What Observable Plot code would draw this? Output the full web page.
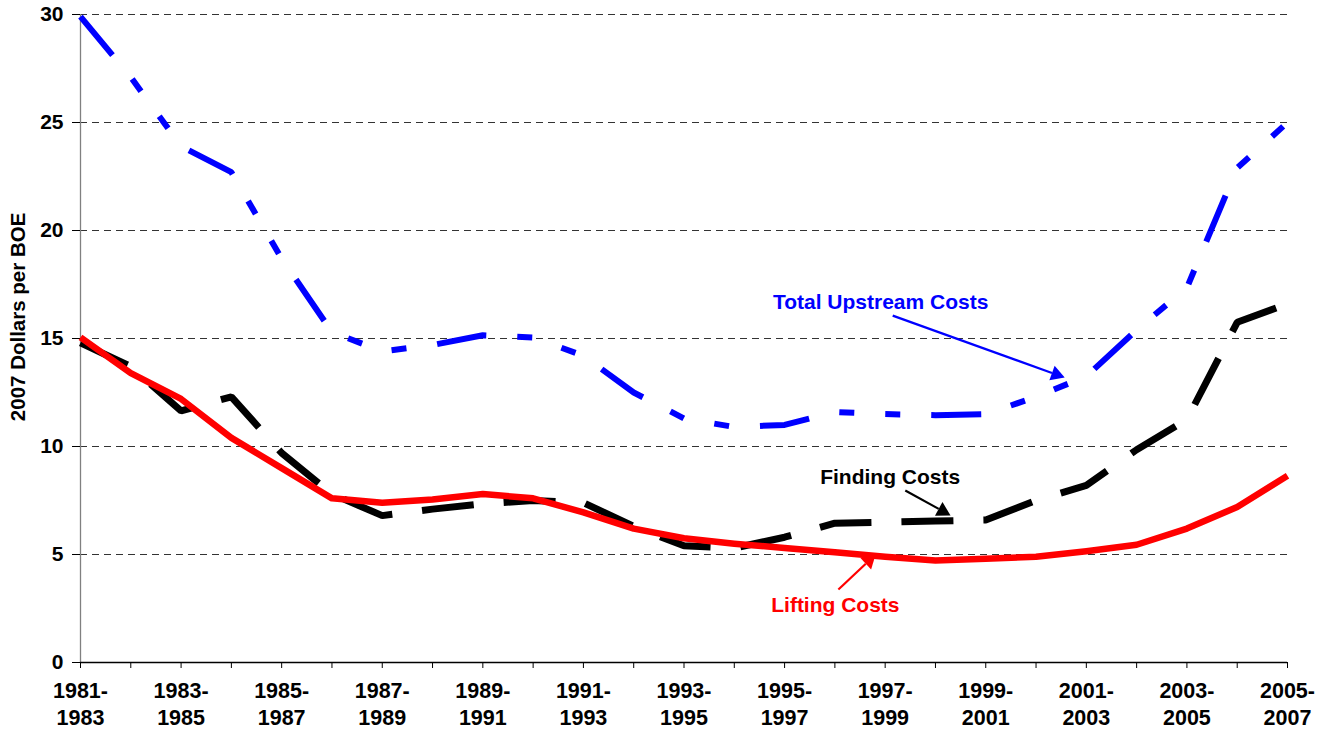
<!DOCTYPE html>
<html>
<head>
<meta charset="utf-8">
<script src="https://cdn.jsdelivr.net/npm/d3@7"></script>
<script src="https://cdn.jsdelivr.net/npm/@observablehq/plot@0.6"></script>
<style>
  html, body { margin: 0; padding: 0; background: #ffffff; }
</style>
</head>
<body>
<div id="chart"></div>
<script>
// ---- data ----
const categories = [
  "1981-1983","1982-1984","1983-1985","1984-1986","1985-1987","1986-1988","1987-1989",
  "1988-1990","1989-1991","1990-1992","1991-1993","1992-1994","1993-1995","1994-1996",
  "1995-1997","1996-1998","1997-1999","1998-2000","1999-2001","2000-2002","2001-2003",
  "2002-2004","2003-2005","2004-2006","2005-2007"
];
const totalUpstream = [29.9, 27.1, 23.9, 22.7, 18.7, 15.3, 14.4, 14.7, 15.15, 15.05, 14.2, 12.5, 11.3,
  10.9, 11.0, 11.6, 11.5, 11.45, 11.5, 12.3, 13.25, 15.4, 17.35, 22.9, 25.0];
const findingCosts = [14.8, 13.7, 11.65, 12.3, 9.7, 7.8, 6.8, 7.1, 7.35, 7.5, 7.4, 6.3, 5.4,
  5.3, 5.8, 6.45, 6.5, 6.55, 6.6, 7.5, 8.2, 9.85, 11.25, 15.75, 16.6];
const liftingCosts = [15.05, 13.4, 12.2, 10.4, 9.0, 7.6, 7.4, 7.55, 7.8, 7.6, 6.95, 6.2, 5.75,
  5.5, 5.3, 5.1, 4.9, 4.72, 4.8, 4.9, 5.15, 5.45, 6.2, 7.2, 8.65];
const yTicks = [0, 5, 10, 15, 20, 25, 30];
const yTitle = "2007 Dollars per BOE";

// annotations (data coordinates: x = start year, y = dollars)
const annoText = ["Total Upstream Costs", "Finding Costs", "Lifting Costs"];
const annoColor = ["#0000FF", "#000000", "#FF0000"];
const annoX = [1996.91, 1997.10, 1996.01];
const annoY = [16.7, 8.56, 2.64];
const arrowFromX = [1997.15, 1997.40, 1996.07];
const arrowFromY = [16.06, 7.96, 3.38];
const arrowToX = [2000.57, 1998.30, 1996.81];
const arrowToY = [13.19, 6.81, 5.0];

// ---- layout ----
const W = 1334, H = 729;
const mL = 80, mR = 47, mT = 14, mB = 67;
const FONT = "'Liberation Sans', Arial, Helvetica, sans-serif";

const startYear = categories.map(c => +c.slice(0, 4));
const rows = categories.map((c, i) => ({
  year: startYear[i], total: totalUpstream[i], finding: findingCosts[i], lifting: liftingCosts[i]
}));
const xDomain = [startYear[0], startYear[startYear.length - 1]];
const yDomain = [yTicks[0], yTicks[yTicks.length - 1]];

// replicas of the plot scales, only to orient the arrowheads
const sx = d3.scaleLinear(xDomain, [mL, W - mR]);
const sy = d3.scaleLinear(yDomain, [H - mB, mT]);
const HALF = 4.5;               // triangle half-unit (apex at 2*HALF, base at HALF from center)
const headR = Math.sqrt(HALF * HALF * 3 * Math.sqrt(3) / Math.PI);
const arrows = annoText.map((t, i) => {
  const px1 = sx(arrowFromX[i]), py1 = sy(arrowFromY[i]);
  const px2 = sx(arrowToX[i]), py2 = sy(arrowToY[i]);
  const len = Math.hypot(px2 - px1, py2 - py1);
  const ux = (px2 - px1) / len, uy = (py2 - py1) / len;
  return {
    x1: arrowFromX[i], y1: arrowFromY[i],
    bx: sx.invert(px2 - ux * 3 * HALF), by: sy.invert(py2 - uy * 3 * HALF),
    cx: sx.invert(px2 - ux * 2 * HALF), cy: sy.invert(py2 - uy * 2 * HALF),
    angle: Math.atan2(ux, -uy) * 180 / Math.PI,
    color: annoColor[i]
  };
});
const annos = annoText.map((t, i) => ({text: t, x: annoX[i], y: annoY[i], color: annoColor[i]}));

const labelYears = startYear.filter((d, i) => i % 2 === 0);

const chart = Plot.plot({
  width: W,
  height: H,
  marginLeft: mL,
  marginRight: mR,
  marginTop: mT,
  marginBottom: mB,
  x: {type: "linear", domain: xDomain},
  y: {type: "linear", domain: yDomain},
  style: {fontFamily: FONT, fontWeight: "bold", fontSize: "20px", color: "#000", background: "#fff", overflow: "visible"},
  marks: [
    Plot.gridY(yTicks.filter(t => t > 0), {stroke: "#333", strokeOpacity: 1, strokeWidth: 1, strokeDasharray: "7,5"}),
    Plot.ruleX([xDomain[0]], {stroke: "#808080", strokeWidth: 1.3}),
    Plot.axisY(yTicks, {tickSize: 8, tickPadding: 9, label: null, fontSize: 21}),
    Plot.axisX(startYear, {tickSize: 6, tickFormat: () => "", label: null}),
    Plot.axisX(labelYears, {
      tickSize: 0, tickPadding: 16, label: null, lineHeight: 1.27, fontSize: 21.5,
      tickFormat: d => categories[startYear.indexOf(d)].replace("-", "-\n")
    }),
    Plot.ruleY([0], {stroke: "#000", strokeWidth: 1.3}),
    Plot.line(rows, {x: "year", y: "total", stroke: "#0000FF", strokeWidth: 6,
      strokeDasharray: "50,31,15,31,15,31", strokeLinejoin: "miter", strokeLinecap: "butt"}),
    Plot.line(rows, {x: "year", y: "finding", stroke: "#000000", strokeWidth: 7,
      strokeDasharray: "52,30", strokeLinejoin: "miter", strokeLinecap: "butt"}),
    Plot.line(rows, {x: "year", y: "lifting", stroke: "#FF0000", strokeWidth: 6.5,
      strokeLinejoin: "round", strokeLinecap: "butt"}),
    Plot.text([yTitle], {frameAnchor: "left", y: [16], dx: -62, rotate: -90,
      textAnchor: "middle", lineAnchor: "middle", fontSize: 20.5, fill: "#000"}),
    Plot.link(arrows, {x1: "x1", y1: "y1", x2: "bx", y2: "by", stroke: "color", strokeWidth: 2.2}),
    Plot.dot(arrows, {x: "cx", y: "cy", symbol: "triangle", r: headR, rotate: "angle",
      fill: "color", stroke: "none"}),
    Plot.text(annos, {x: "x", y: "y", text: "text", fill: "color", fontSize: 21,
      textAnchor: "middle", lineAnchor: "middle"})
  ]
});
document.getElementById("chart").appendChild(chart);
</script>
</body>
</html>
